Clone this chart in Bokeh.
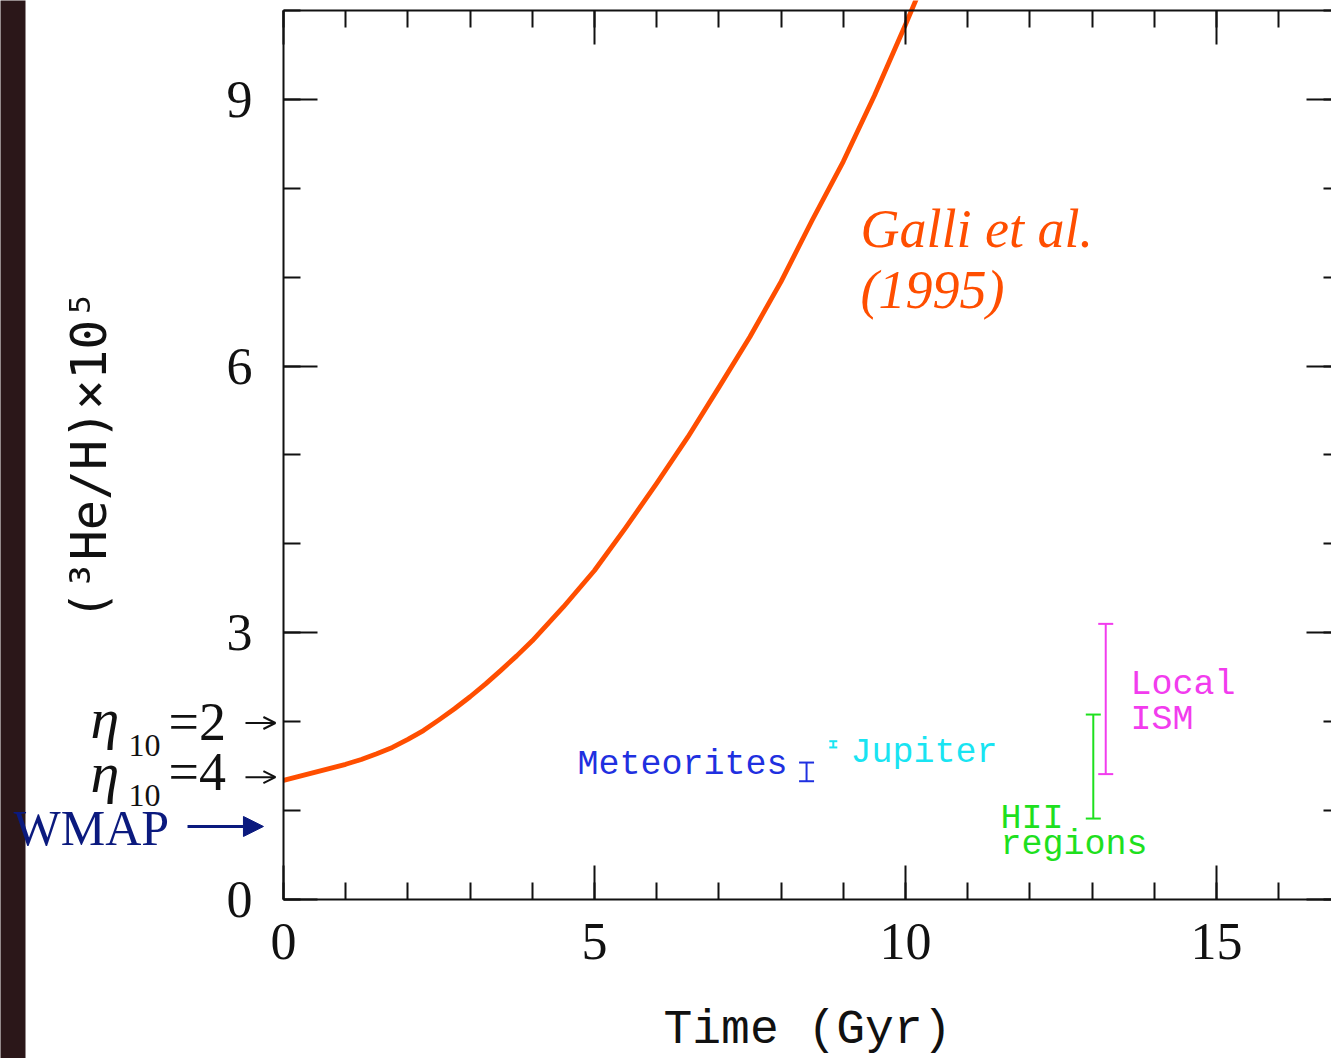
from bokeh.plotting import figure
from bokeh.models import (Range1d, LinearAxis, SingleIntervalTicker, Label, Arrow,
                          NormalHead, OpenHead, Whisker, TeeHead, ColumnDataSource,
                          BoxAnnotation, CustomLabelingPolicy)
from bokeh.embed import file_html
from bokeh.resources import INLINE

# ---- data -------------------------------------------------------------
time_gyr = [0.0, 0.25, 0.5, 0.75, 1.0, 1.25, 1.5, 1.75, 2.0, 2.25, 2.5, 2.75,
            3.0, 3.25, 3.5, 3.75, 4.0, 4.5, 5.0, 5.5, 6.0,
            6.5, 7.0, 7.5, 8.0, 8.5, 9.0, 9.5, 10.0, 10.4]
he3_galli = [1.34, 1.385, 1.43, 1.475, 1.52, 1.575, 1.64, 1.71, 1.80, 1.90, 2.02, 2.145,
             2.28, 2.425, 2.58, 2.74, 2.91, 3.29, 3.70,
             4.18, 4.68, 5.20, 5.76, 6.33, 6.95, 7.64, 8.30, 9.04, 9.84, 10.5]

obs_names = ["Meteorites", "Jupiter", "HII regions", "Local ISM"]
obs_time = [8.41, 8.84, 13.02, 13.22]
obs_low = [1.33, 1.71, 0.91, 1.41]
obs_high = [1.54, 1.78, 2.08, 3.10]
obs_colors = ["#1f30e0", "#19e4f2", "#1ee01e", "#f23cee"]
obs_cap = [15, 8, 15, 15]

x_major, x_minor = 5, 5
y_major, y_minor = 3, 3
x_axis_end = 17
y_axis_end = 10

CURVE = "#ff4e00"
NAVY = "#0b1a7e"
INK = "#111111"
SERIF = "Liberation Serif"
MONO = "Liberation Mono"

p = figure(width=1331, height=1058, output_backend="svg", toolbar_location=None,
           x_range=Range1d(-4.55, 16.85), y_range=Range1d(-1.789, 10.112),
           min_border=0, min_border_left=0, min_border_right=0, min_border_top=0,
           min_border_bottom=0, x_axis_location=None, y_axis_location=None)
p.outline_line_color = None
p.grid.grid_line_color = None
p.background_fill_color = "white"
p.border_fill_color = "white"

# dark strip on the far left
p.add_layout(BoxAnnotation(left=-4.7, right=-4.148, bottom=-2, top=10.3,
                           fill_color="#2b1719", fill_alpha=1.0, line_alpha=0,
                           level="underlay"))

no_labels = CustomLabelingPolicy(code="return new Set()")


def style(ax, tin_major, tin_minor, labels=True):
    ax.axis_line_width = 2
    ax.axis_line_color = INK
    ax.major_tick_line_width = 2
    ax.minor_tick_line_width = 2
    ax.major_tick_line_color = INK
    ax.minor_tick_line_color = INK
    ax.major_tick_out = 0
    ax.minor_tick_out = 0
    ax.major_tick_in = tin_major
    ax.minor_tick_in = tin_minor
    if labels:
        ax.major_label_text_font = SERIF
        ax.major_label_text_font_size = "52px"
        ax.major_label_text_color = INK
    else:
        ax.major_label_policy = no_labels
    ax.axis_label_text_font_style = "normal"
    ax.axis_label_text_color = INK


xb = LinearAxis(ticker=SingleIntervalTicker(interval=x_major, num_minor_ticks=x_minor),
                fixed_location=0, bounds=(0, x_axis_end))
style(xb, 34, 17)
xb.major_label_standoff = 25
xb.axis_label = "Time (Gyr)"
xb.axis_label_text_font = MONO
xb.axis_label_text_font_size = "48px"
xb.axis_label_standoff = 40
p.add_layout(xb, "below")

xt = LinearAxis(ticker=SingleIntervalTicker(interval=x_major, num_minor_ticks=x_minor),
                fixed_location=y_axis_end, bounds=(0, x_axis_end))
style(xt, 34, 17, labels=False)
p.add_layout(xt, "above")

yl = LinearAxis(ticker=SingleIntervalTicker(interval=y_major, num_minor_ticks=y_minor),
                fixed_location=0, bounds=(0, y_axis_end))
style(yl, 34, 17)
yl.major_label_standoff = 31
yl.axis_label = "(³He/H)×10⁵"
yl.axis_label_text_font = "DejaVu Sans Mono"
yl.axis_label_text_font_size = "50px"
yl.axis_label_standoff = 106
p.add_layout(yl, "left")

yr = LinearAxis(ticker=SingleIntervalTicker(interval=y_major, num_minor_ticks=y_minor),
                fixed_location=x_axis_end, bounds=(0, y_axis_end))
style(yr, 34, 17, labels=False)
p.add_layout(yr, "right")

# ---- curve --------------------------------------------------------------
p.line(time_gyr, he3_galli, line_color=CURVE, line_width=4.8, line_join="round")

# ---- observations -------------------------------------------------------
for t, lo, hi, c, cap in zip(obs_time, obs_low, obs_high, obs_colors, obs_cap):
    src = ColumnDataSource(dict(base=[t], lower=[lo], upper=[hi]))
    p.add_layout(Whisker(source=src, base="base", lower="lower", upper="upper",
                         dimension="height", line_color=c, line_width=2,
                         upper_head=TeeHead(size=cap, line_color=c, line_width=2),
                         lower_head=TeeHead(size=cap, line_color=c, line_width=2)))

obs_text = [("Meteorites", 4.727, 1.513, obs_colors[0]),
            ("Jupiter", 9.116, 1.645, obs_colors[1]),
            ("HII", 11.527, 0.908, obs_colors[2]),
            ("regions", 11.527, 0.613, obs_colors[2]),
            ("Local", 13.617, 2.413, obs_colors[3]),
            ("ISM", 13.617, 2.019, obs_colors[3])]
for txt, x, y, c in obs_text:
    p.add_layout(Label(x=x, y=y, text=txt, text_font=MONO, text_font_size="35px",
                       text_color=c, text_align="left", text_baseline="alphabetic"))

# Galli et al. label
for txt, y in [("Galli et al.", 7.541), ("(1995)", 6.855)]:
    p.add_layout(Label(x=9.277, y=y, text=txt, text_font=SERIF, text_font_size="54px",
                       text_font_style="italic", text_color=CURVE,
                       text_align="left", text_baseline="alphabetic"))

# eta_10 annotations
for num, y_eta, y_sub, y_eq, y_arr in [("2", 2.033, 1.732, 1.996, 1.985),
                                       ("4", 1.426, 1.169, 1.433, 1.375)]:
    p.add_layout(Label(x=-3.103, y=y_eta, text="η", text_font=SERIF,
                       text_font_size="58px", text_font_style="italic",
                       text_color=INK, text_baseline="alphabetic"))
    p.add_layout(Label(x=-2.492, y=y_sub, text="10", text_font=SERIF,
                       text_font_size="32px", text_color=INK,
                       text_baseline="alphabetic"))
    p.add_layout(Label(x=-1.849, y=y_eq, text="=" + num, text_font=SERIF,
                       text_font_size="54px", text_color=INK,
                       text_baseline="alphabetic"))
    p.add_layout(Arrow(x_start=-0.611, x_end=-0.13, y_start=y_arr, y_end=y_arr,
                       line_width=2, line_color=INK,
                       end=OpenHead(size=12, line_width=2, line_color=INK)))

# WMAP
p.add_layout(Label(x=-4.341, y=0.80, text="WMAP", text_font=SERIF,
                   text_font_size="50px", text_color=NAVY, text_baseline="alphabetic"))
p.add_layout(Arrow(x_start=-1.543, x_end=-0.322, y_start=0.821, y_end=0.821,
                   line_width=3, line_color=NAVY,
                   end=NormalHead(size=20, fill_color=NAVY, line_color=NAVY)))

open("out.html", "w").write(file_html(p, INLINE))
